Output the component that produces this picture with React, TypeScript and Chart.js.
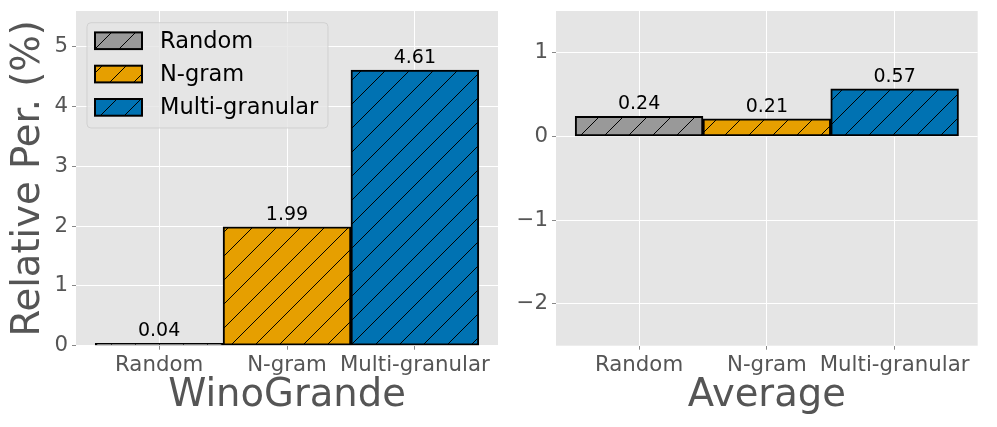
import React, { useEffect, useRef } from 'react';
import { Chart, registerables } from 'chart.js';

Chart.register(...registerables);

const categories = ['Random', 'N-gram', 'Multi-granular'];
const winoGrandeValues = [0.04, 1.99, 4.61];
const averageValues = [0.24, 0.21, 0.57];
const seriesColors = ['#999999', '#E69F00', '#0072B2'];
const categoryPositions = [0, 1, 2];
const leftYTicks = [0, 1, 2, 3, 4, 5];
const rightYTicks = [-2, -1, 0, 1];
const leftYRange = [0, 5.6];
const rightYRange = [-2.5, 1.5];
const xRange = [-0.65, 2.65];

const FONT = '"DejaVu Sans", "Liberation Sans", sans-serif';
const TEXT_GRAY = '#555555';

function makeHatch(color: string): CanvasPattern | string {
  const s = 24;
  const c = document.createElement('canvas');
  c.width = s;
  c.height = s;
  const g = c.getContext('2d');
  if (!g) return color;
  g.fillStyle = color;
  g.fillRect(0, 0, s, s);
  g.strokeStyle = '#000000';
  g.lineWidth = 1;
  g.beginPath();
  for (const k of [-s, 0, s]) {
    g.moveTo(k - 1, s + 1);
    g.lineTo(k + s + 1, -1);
  }
  g.stroke();
  const p = g.createPattern(c, 'repeat');
  return p || color;
}

const bgPlugin = {
  id: 'axesBg',
  beforeDraw(chart: any) {
    const { ctx, chartArea } = chart;
    ctx.save();
    ctx.fillStyle = '#E5E5E5';
    ctx.fillRect(chartArea.left, chartArea.top, chartArea.right - chartArea.left, chartArea.bottom - chartArea.top);
    ctx.restore();
  },
};

const valueLabelPlugin = {
  id: 'valueLabels',
  afterDatasetsDraw(chart: any) {
    const { ctx } = chart;
    ctx.save();
    ctx.font = `19px ${FONT}`;
    ctx.fillStyle = '#000000';
    ctx.textAlign = 'center';
    ctx.textBaseline = 'alphabetic';
    chart.data.datasets.forEach((ds: any, i: number) => {
      const meta = chart.getDatasetMeta(i);
      meta.data.forEach((el: any, j: number) => {
        const v = ds.data[j].y;
        ctx.fillText(v.toFixed(2), el.x, el.y - 7);
      });
    });
    ctx.restore();
  },
};

const legendPlugin = {
  id: 'insideLegend',
  afterDraw(chart: any) {
    const { ctx } = chart;
    const x0 = 87, y0 = 22.7, w = 241, h = 105.3;
    ctx.save();
    ctx.beginPath();
    const r = 4;
    ctx.moveTo(x0 + r, y0);
    ctx.arcTo(x0 + w, y0, x0 + w, y0 + h, r);
    ctx.arcTo(x0 + w, y0 + h, x0, y0 + h, r);
    ctx.arcTo(x0, y0 + h, x0, y0, r);
    ctx.arcTo(x0, y0, x0 + w, y0, r);
    ctx.closePath();
    ctx.fillStyle = 'rgba(229,229,229,0.8)';
    ctx.fill();
    ctx.strokeStyle = 'rgba(204,204,204,0.8)';
    ctx.lineWidth = 1;
    ctx.stroke();
    ctx.font = `22.5px ${FONT}`;
    ctx.textAlign = 'left';
    ctx.textBaseline = 'middle';
    chart.data.datasets.forEach((ds: any, i: number) => {
      const cy = 40.7 + i * 33.3;
      ctx.fillStyle = ds.backgroundColor;
      ctx.fillRect(95, cy - 8.3, 47, 16.7);
      ctx.strokeStyle = '#000000';
      ctx.lineWidth = 2;
      ctx.strokeRect(95, cy - 8.3, 47, 16.7);
      ctx.fillStyle = '#000000';
      ctx.fillText(ds.label, 160, cy + 1);
    });
    ctx.restore();
  },
};

type PanelProps = {
  values: number[];
  yRange: number[];
  yTicks: number[];
  yTitle?: string;
  xTitle: string;
  left: number;
  width: number;
  yAxisWidth: number;
  padRight: number;
  showLegend: boolean;
};

function Panel(props: PanelProps) {
  const ref = useRef<HTMLCanvasElement>(null);
  const height = 427;
  useEffect(() => {
    if (!ref.current) return;
    const patterns = seriesColors.map((c) => makeHatch(c));
    const datasets = categories.map((cat, i) => ({
      label: cat,
      data: [{ x: categoryPositions[i], y: props.values[i] }],
      backgroundColor: patterns[i],
      borderColor: '#000000',
      borderWidth: 2,
      borderSkipped: false,
      grouped: false,
      barPercentage: 1,
      categoryPercentage: 1,
    }));
    const plugins: any[] = [bgPlugin, valueLabelPlugin];
    if (props.showLegend) plugins.push(legendPlugin);
    const chart = new Chart(ref.current, {
      type: 'bar',
      data: { datasets: datasets as any },
      plugins,
      options: {
        responsive: false,
        animation: false,
        devicePixelRatio: 1,
        layout: { padding: { top: 11, right: props.padRight, left: 0, bottom: 0 } },
        plugins: {
          legend: { display: false },
          tooltip: { enabled: false },
        },
        scales: {
          x: {
            type: 'linear',
            offset: false,
            min: xRange[0],
            max: xRange[1],
            afterBuildTicks: (s: any) => {
              s.ticks = categoryPositions.map((v) => ({ value: v }));
            },
            afterFit: (s: any) => {
              s.height = 81.3;
              s.paddingLeft = 0;
              s.paddingRight = 0;
              s.paddingTop = 0;
              s.paddingBottom = 0;
            },
            ticks: {
              autoSkip: false,
              maxRotation: 0,
              padding: 3,
              color: TEXT_GRAY,
              font: { family: FONT, size: 21.3 },
              callback: (v: any) => categories[categoryPositions.indexOf(Number(v))] ?? '',
            },
            grid: { offset: false, color: '#FFFFFF', lineWidth: 1, tickLength: 4, tickColor: '#888888' },
            border: { display: false },
            title: {
              display: true,
              text: props.xTitle,
              color: TEXT_GRAY,
              font: { family: FONT, size: 38.5 },
              padding: { top: 0, bottom: 8 },
            },
          },
          y: {
            type: 'linear',
            min: props.yRange[0],
            max: props.yRange[1],
            afterBuildTicks: (s: any) => {
              s.ticks = props.yTicks.map((v) => ({ value: v }));
            },
            afterFit: (s: any) => {
              s.width = props.yAxisWidth;
              s.paddingLeft = 0;
              s.paddingRight = 0;
              s.paddingTop = 0;
              s.paddingBottom = 0;
            },
            ticks: {
              padding: 4,
              color: TEXT_GRAY,
              font: { family: FONT, size: 21.3 },
              callback: (v: any) => String(v).replace('-', '\u2212'),
            },
            grid: { color: '#FFFFFF', lineWidth: 1, tickLength: 4, tickColor: '#888888' },
            border: { display: false },
            title: {
              display: !!props.yTitle,
              text: props.yTitle || '',
              color: TEXT_GRAY,
              font: { family: FONT, size: 38.5 },
              padding: { top: 6, bottom: 0 },
            },
          },
        },
      } as any,
    });
    return () => chart.destroy();
  }, []);
  return (
    <canvas
      ref={ref}
      width={props.width}
      height={height}
      style={{ position: 'absolute', left: props.left, top: 0, width: props.width, height }}
    />
  );
}

export default function App() {
  return (
    <div style={{ position: 'fixed', left: 0, top: 0, width: 997, height: 427, background: '#FFFFFF' }}>
      <Panel
        values={winoGrandeValues}
        yRange={leftYRange}
        yTicks={leftYTicks}
        yTitle="Relative Per. (%)"
        xTitle="WinoGrande"
        left={0}
        width={500}
        yAxisWidth={76}
        padRight={2}
        showLegend={true}
      />
      <Panel
        values={averageValues}
        yRange={rightYRange}
        yTicks={rightYTicks}
        xTitle="Average"
        left={500}
        width={497}
        yAxisWidth={56}
        padRight={19.3}
        showLegend={false}
      />
    </div>
  );
}
